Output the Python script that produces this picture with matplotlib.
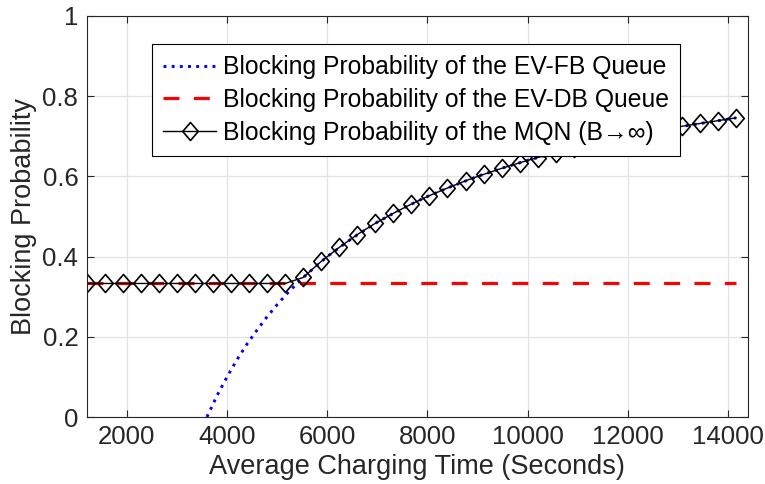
import matplotlib
matplotlib.use("Agg")
import matplotlib.pyplot as plt
from matplotlib.ticker import FixedLocator
from matplotlib.path import Path

plt.rcParams['font.family'] = ['Liberation Sans', 'DejaVu Sans']

# --- data ---
mqn_x = [1200, 1560, 1920, 2280, 2640, 3000, 3360, 3720, 4080, 4440, 4800, 5160,
         5520, 5880, 6240, 6600, 6960, 7320, 7680, 8040, 8400, 8760, 9120, 9480,
         9840, 10200, 10560, 10920, 11280, 11640, 12000, 12360, 12720, 13080,
         13440, 13800, 14160]
mqn_y = [0.333, 0.333, 0.333, 0.333, 0.333, 0.333, 0.333, 0.333, 0.333, 0.333, 0.333, 0.333,
         0.348, 0.388, 0.423, 0.455, 0.483, 0.508, 0.531, 0.552, 0.571, 0.589, 0.605, 0.620,
         0.634, 0.647, 0.659, 0.670, 0.681, 0.691, 0.700, 0.709, 0.717, 0.725,
         0.732, 0.739, 0.746]

fb_x = [3600, 3800, 4000, 4200, 4400, 4600, 4800, 5000, 5200, 5400, 5600, 6000,
        6500, 7000, 7500, 8000, 8500, 9000, 9500, 10000, 10500, 11000, 11500,
        12000, 12500, 13000, 13500, 14160]
fb_y = [0.000, 0.053, 0.100, 0.143, 0.182, 0.217, 0.250, 0.280, 0.308, 0.333, 0.357, 0.400,
        0.446, 0.486, 0.520, 0.550, 0.576, 0.600, 0.621, 0.640, 0.657, 0.673, 0.687,
        0.700, 0.712, 0.723, 0.733, 0.746]

db_x = [1200, 14160]
db_y = [0.333, 0.333]

labels = ['Blocking Probability of the EV-FB Queue',
          'Blocking Probability of the EV-DB Queue',
          'Blocking Probability of the MQN (B\u2192\u221e)']
xticks = [2000, 4000, 6000, 8000, 10000, 12000, 14000]
yticks = [0, 0.2, 0.4, 0.6, 0.8, 1]
ytick_labels = ['0', '0.2', '0.4', '0.6', '0.8', '1']

# MATLAB-like diamond (slightly taller than wide)
diamond = Path([(0, 1), (0.86, 0), (0, -1), (-0.86, 0), (0, 1)],
               [Path.MOVETO, Path.LINETO, Path.LINETO, Path.LINETO, Path.CLOSEPOLY])

fig = plt.figure(figsize=(7.65, 4.84), dpi=100)
ax = fig.add_axes([0.1133, 0.1384, 0.978 - 0.1133, 0.967 - 0.1384])

ax.plot(fb_x, fb_y, color='#0000ff', lw=2.1, linestyle=(0, (1, 1.8)), label=labels[0])
ax.plot(db_x, db_y, color='#ff0000', lw=2.3, linestyle=(0, (5, 4.5)), label=labels[1])
ax.plot(mqn_x, mqn_y, color='black', lw=1.0, marker=diamond, markersize=13,
        markerfacecolor='none', markeredgecolor='black', markeredgewidth=1.2,
        label=labels[2])

ax.set_xlim(1200, 14400)
ax.set_ylim(0, 1)
ax.xaxis.set_major_locator(FixedLocator(xticks))
ax.set_xticklabels([str(t) for t in xticks])
ax.yaxis.set_major_locator(FixedLocator(yticks))
ax.set_yticklabels(ytick_labels)

dark = '#262626'
ax.tick_params(direction='in', top=True, right=True, length=5, width=0.8,
               colors=dark, labelsize=18.5, pad=6)
for s in ax.spines.values():
    s.set_color(dark)
    s.set_linewidth(0.8)
ax.grid(True, color='#e3e3e3', lw=0.9)
ax.set_axisbelow(True)

ax.set_xlabel('Average Charging Time (Seconds)', fontsize=19.5, color=dark, labelpad=3)
ax.set_ylabel('Blocking Probability', fontsize=19.5, color=dark, labelpad=4)

leg = ax.legend(loc='upper left', bbox_to_anchor=(0.099, 0.93), fontsize=17.8,
                frameon=True, fancybox=False, framealpha=1, edgecolor='black',
                handlelength=2.15, handletextpad=0.28, borderpad=0.45,
                labelspacing=0.36, borderaxespad=0)
leg.get_frame().set_linewidth(0.8)

fig.savefig('out.png', dpi=100)
